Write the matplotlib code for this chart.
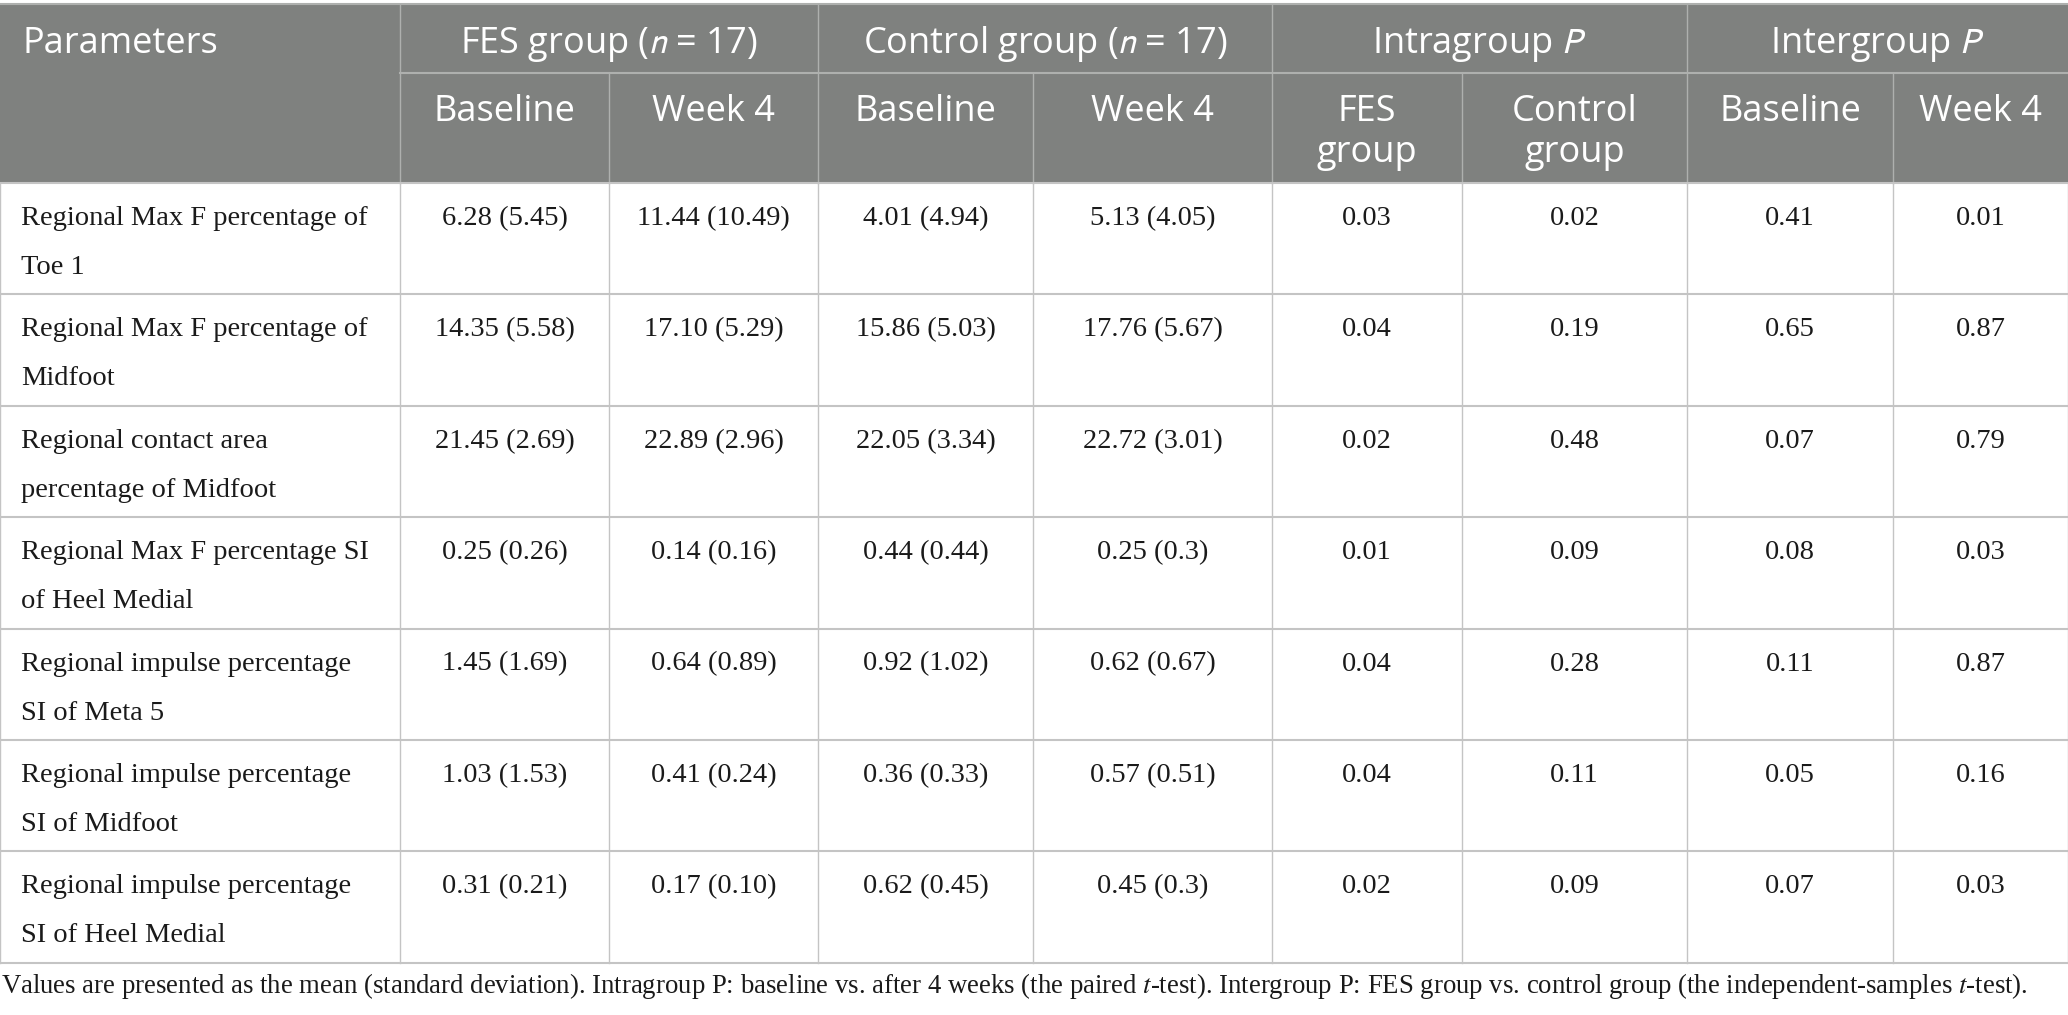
import matplotlib
matplotlib.use("Agg")
import matplotlib.pyplot as plt
from matplotlib.patches import Rectangle

# table content
params = [
    "Regional Max F percentage of\nToe 1",
    "Regional Max F percentage of\nMidfoot",
    "Regional contact area\npercentage of Midfoot",
    "Regional Max F percentage SI\nof Heel Medial",
    "Regional impulse percentage\nSI of Meta 5",
    "Regional impulse percentage\nSI of Midfoot",
    "Regional impulse percentage\nSI of Heel Medial",
]
fes_base = ["6.28 (5.45)", "14.35 (5.58)", "21.45 (2.69)", "0.25 (0.26)", "1.45 (1.69)", "1.03 (1.53)", "0.31 (0.21)"]
fes_wk4 = ["11.44 (10.49)", "17.10 (5.29)", "22.89 (2.96)", "0.14 (0.16)", "0.64 (0.89)", "0.41 (0.24)", "0.17 (0.10)"]
ctl_base = ["4.01 (4.94)", "15.86 (5.03)", "22.05 (3.34)", "0.44 (0.44)", "0.92 (1.02)", "0.36 (0.33)", "0.62 (0.45)"]
ctl_wk4 = ["5.13 (4.05)", "17.76 (5.67)", "22.72 (3.01)", "0.25 (0.3)", "0.62 (0.67)", "0.57 (0.51)", "0.45 (0.3)"]
intra_fes = ["0.03", "0.04", "0.02", "0.01", "0.04", "0.04", "0.02"]
intra_ctl = ["0.02", "0.19", "0.48", "0.09", "0.28", "0.11", "0.09"]
inter_base = ["0.41", "0.65", "0.07", "0.08", "0.11", "0.05", "0.07"]
inter_wk4 = ["0.01", "0.87", "0.79", "0.03", "0.87", "0.16", "0.03"]

top_headers = ["FES group ($n$ = 17)", "Control group ($n$ = 17)", "Intragroup $P$", "Intergroup $P$"]
sub_headers = ["Baseline", "Week 4", "Baseline", "Week 4", "FES\ngroup", "Control\ngroup", "Baseline", "Week 4"]
footnote = ("Values are presented as the mean (standard deviation). Intragroup P: baseline vs. after 4 weeks "
            "(the paired $t$-test). Intergroup P: FES group vs. control group (the independent-samples $t$-test).")

W, H = 2068, 1015
xs = [0, 400, 609, 818, 1033, 1272, 1462, 1687, 1893, 2068]
head_top, head_mid, head_bot = 4, 73, 183
row_h = 111.4

HEAD_BG = "#7f817f"
HEAD_LINE = "#aeb0ae"
GRID = "#c4c4c4"
SANS = "Open Sans"
SERIF = "Liberation Serif"

fig = plt.figure(figsize=(W / 100, H / 100), dpi=100)
ax = fig.add_axes([0, 0, 1, 1])
ax.set_xlim(0, W)
ax.set_ylim(H, 0)
ax.axis("off")

# header block
ax.add_patch(Rectangle((0, head_top), W, head_bot - head_top, color=HEAD_BG, lw=0))
ax.plot([0, W], [head_top, head_top], color=HEAD_LINE, lw=1.5)
ax.plot([xs[1], W], [head_mid, head_mid], color=HEAD_LINE, lw=1.5)
for i, x in enumerate(xs[1:-1], start=1):
    y0 = head_top if i % 2 == 1 else head_mid
    ax.plot([x, x], [y0, head_bot], color=HEAD_LINE, lw=1)

ax.text(22, 53, "Parameters", color="white", fontsize=26, family=SANS, va="baseline", ha="left")
for k, lab in enumerate(top_headers):
    xc = (xs[1 + 2 * k] + xs[3 + 2 * k]) / 2
    ax.text(xc, 53, lab, color="white", fontsize=26, family=SANS, va="baseline", ha="center",
            math_fontfamily="stixsans")
for k, lab in enumerate(sub_headers):
    xc = (xs[1 + k] + xs[2 + k]) / 2
    for j, line in enumerate(lab.split("\n")):
        ax.text(xc, 121 + 41 * j, line, color="white", fontsize=26, family=SANS,
                va="baseline", ha="center")

# body
columns = [fes_base, fes_wk4, ctl_base, ctl_wk4, intra_fes, intra_ctl, inter_base, inter_wk4]
n = len(params)
for r in range(n):
    y0 = head_bot + r * row_h
    for j, line in enumerate(params[r].split("\n")):
        ax.text(21, y0 + 42 + 49 * j, line, fontsize=20.5, family=SERIF, color="#1a1a1a",
                va="baseline", ha="left")
    for c, col in enumerate(columns):
        xc = (xs[1 + c] + xs[2 + c]) / 2
        ax.text(xc, y0 + 42, col[r], fontsize=20.5, family=SERIF, color="#1a1a1a",
                va="baseline", ha="center")

# grid lines
for r in range(n + 1):
    y = head_bot + r * row_h
    ax.plot([0, W], [y, y], color=GRID, lw=1.5)
body_bot = head_bot + n * row_h
for x in xs:
    ax.plot([x, x], [head_bot, body_bot], color=GRID, lw=1)

ax.text(1, 993, footnote, fontsize=19.3, family=SERIF, color="#1a1a1a", va="baseline", ha="left",
        math_fontfamily="stix")

fig.savefig("out.png", dpi=100)
